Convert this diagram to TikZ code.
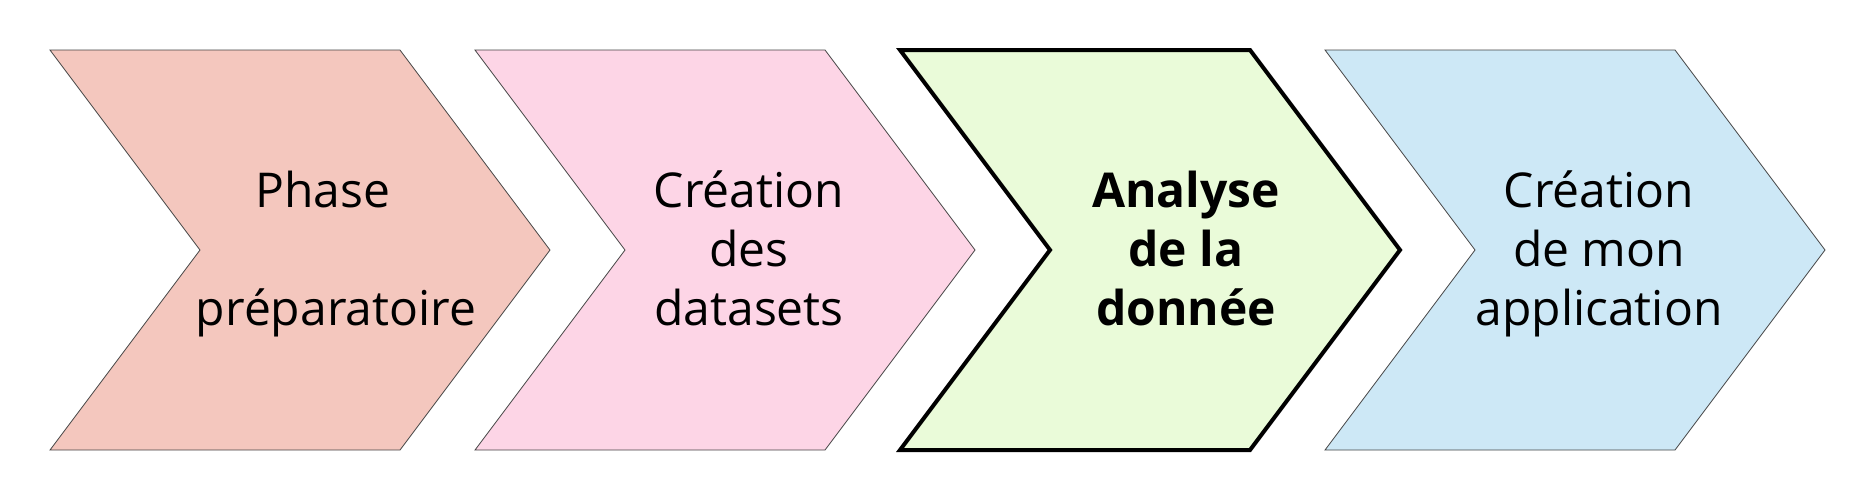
\documentclass[tikz,border=0pt]{standalone}
\usepackage{fontspec}
\setmainfont{Open Sans}
\definecolor{cA}{HTML}{F4C7BE}
\definecolor{cB}{HTML}{FDD5E6}
\definecolor{cC}{HTML}{EAFBD9}
\definecolor{cD}{HTML}{CDE8F6}
\definecolor{edge}{HTML}{444444}
\newcommand\lnstrut{\rule[-6pt]{0pt}{24pt}}
\tikzset{
  chev/.style={draw=edge, line width=0.4pt, line join=miter},
  chevbold/.style={draw=black, line width=2pt, line join=miter},
  lbl/.style={align=center, font=\fontsize{24}{29.5}\selectfont, inner sep=0pt},
}
\begin{document}
\begin{tikzpicture}[x=0.5pt,y=-0.5pt]
\useasboundingbox (0,0) rectangle (1875,500);
\foreach \l/\c/\s in {50/cA/chev,475/cB/chev,900/cC/chevbold,1325/cD/chev}{
  \path[\s, fill=\c] (\l,50) -- (\l+350,50) -- (\l+500,250) -- (\l+350,450) -- (\l,450) -- (\l+150,250) -- cycle;
}
\node[lbl] (t1) at (336,254) {\lnstrut Phase\hspace*{13pt}\\\lnstrut\\\lnstrut préparatoire};
\node[lbl] (t2) at (749,254) {\lnstrut Création\\\lnstrut des\\\lnstrut datasets};
\node[lbl, font=\fontsize{24}{29.5}\selectfont\bfseries] (t3) at (1186,254) {\lnstrut Analyse\\\lnstrut de la\\\lnstrut donnée};
\node[lbl] (t4) at (1599,254) {\lnstrut Création\\\lnstrut de mon\\\lnstrut application};
\end{tikzpicture}
\end{document}
